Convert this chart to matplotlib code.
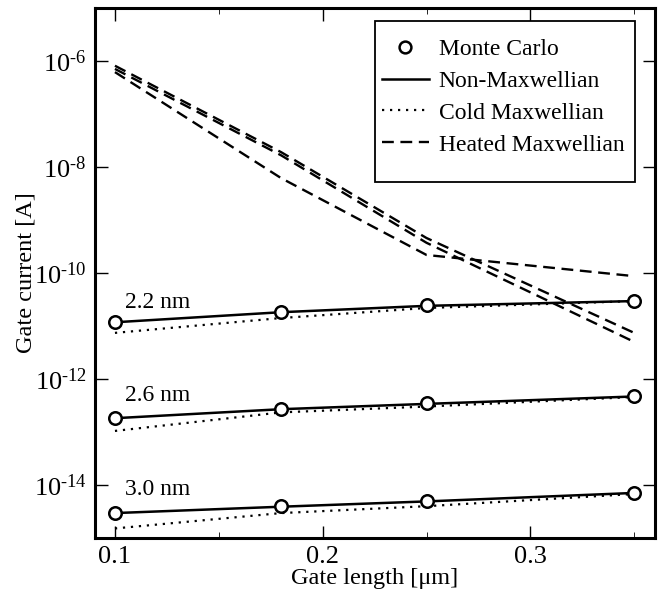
import numpy as np
import matplotlib
matplotlib.use("Agg")
import matplotlib.pyplot as plt
from matplotlib.lines import Line2D
from matplotlib.patches import Rectangle

plt.rcParams['font.family'] = ['Liberation Serif', 'DejaVu Serif']
plt.rcParams['mathtext.fontset'] = 'custom'
plt.rcParams['mathtext.rm'] = 'Liberation Serif'
plt.rcParams['mathtext.it'] = 'Liberation Serif:italic'

# gate length [um]
gate_length = [0.1, 0.18, 0.25, 0.35]
oxide_labels = ["2.2 nm", "2.6 nm", "3.0 nm"]
label_logy = [-10.55, -12.31, -14.08]
ytick_exps = [-14, -12, -10, -8, -6]

# log10 of gate current [A], one row per oxide thickness
monte_carlo = [
    [-10.93, -10.74, -10.60, -10.53],
    [-12.74, -12.56, -12.46, -12.33],
    [-14.53, -14.40, -14.30, -14.15],
]
non_maxwellian = [
    [-10.93, -10.74, -10.62, -10.53],
    [-12.74, -12.57, -12.47, -12.33],
    [-14.53, -14.41, -14.31, -14.15],
]
cold_maxwellian = [
    [-11.13, -10.85, -10.66, -10.53],
    [-12.98, -12.63, -12.52, -12.34],
    [-14.82, -14.53, -14.40, -14.17],
]
heated_maxwellian = [
    [-6.09, -7.72, -9.34, -11.13],
    [-6.15, -7.78, -9.43, -11.30],
    [-6.21, -8.21, -9.66, -10.06],
]

fig = plt.figure(figsize=(6.58, 5.91), dpi=100)
ax = fig.add_axes([0.1444, 0.0897, 0.851, 0.8968])

for i in range(3):
    ax.plot(gate_length, 10.0 ** np.array(non_maxwellian[i]), color='black', lw=1.8)
    ax.plot(gate_length, 10.0 ** np.array(cold_maxwellian[i]), color='black', lw=1.6,
            linestyle=(0, (1, 2.6)))
    ax.plot(gate_length, 10.0 ** np.array(heated_maxwellian[i]), color='black', lw=1.7,
            linestyle=(0, (5, 2.8)))
    ax.plot(gate_length, 10.0 ** np.array(monte_carlo[i]), linestyle='none', marker='o',
            ms=9, mfc='white', mec='black', mew=1.8)
    ax.text(0.105, 10.0 ** label_logy[i], oxide_labels[i], fontsize=17, va='center', ha='left')

ax.set_yscale('log')
ax.set_xlim(0.0904, 0.36)
ax.set_ylim(1e-15, 1e-5)
ax.set_xticks([0.1, 0.2, 0.3])
ax.set_xticklabels(['0.1', '0.2', '0.3'])
ax.set_xticks([0.15, 0.25, 0.35], minor=True)
ax.set_yticks([10.0 ** e for e in ytick_exps])
ax.set_yticklabels([r'$10^{\text{-%d}}$' % -e for e in ytick_exps])
ax.yaxis.set_minor_locator(matplotlib.ticker.NullLocator())
ax.tick_params(which='major', direction='in', length=9, width=1.0, top=True, right=True,
               labelsize=19, pad=6)
ax.tick_params(which='minor', direction='in', length=4, width=0.6, top=True, right=True)
for s in ax.spines.values():
    s.set_linewidth(2.2)

ax.set_xlabel('Gate length [\u03bcm]', fontsize=17.5, labelpad=0)
ax.set_ylabel('Gate current [A]', fontsize=17.5)
ax.yaxis.set_label_coords(-0.104, 0.5)

# legend box (taller padding above/below than at the sides)
ax.add_patch(Rectangle((0.5, 0.6717), 0.464, 0.3038, transform=ax.transAxes,
                       facecolor='white', edgecolor='black', lw=1.3, zorder=4))
handles = [
    Line2D([], [], linestyle='none', marker='o', ms=8.5, mfc='white', mec='black', mew=1.8),
    Line2D([], [], color='black', lw=1.8),
    Line2D([], [], color='black', lw=1.6, linestyle=(0, (1, 2.6))),
    Line2D([], [], color='black', lw=1.7, linestyle=(0, (5, 2.8))),
]
leg = ax.legend(handles, ['Monte Carlo', 'Non-Maxwellian', 'Cold Maxwellian', 'Heated Maxwellian'],
                loc='center', bbox_to_anchor=(0.7286, 0.832), fontsize=17, frameon=False,
                handlelength=2.0, handletextpad=0.42, borderpad=0.0, labelspacing=0.44,
                borderaxespad=0.0)
leg.set_zorder(5)

fig.savefig('out.png', dpi=100)
